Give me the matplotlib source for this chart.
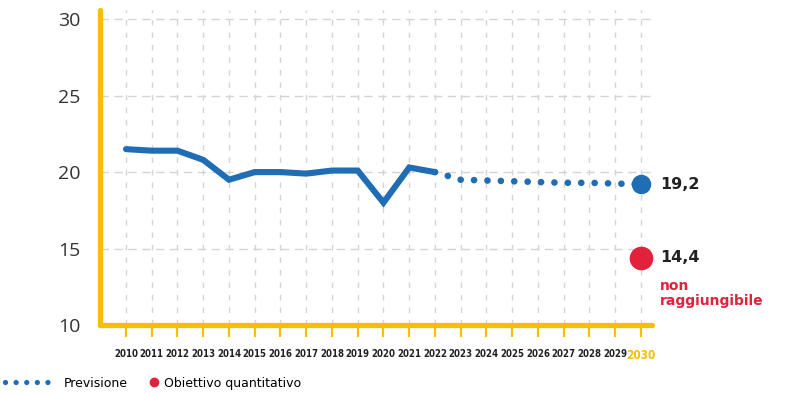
import matplotlib.pyplot as plt
from matplotlib.lines import Line2D

# Data
years = list(range(2010, 2031))
hist_years = list(range(2010, 2023))
hist_values = [21.5, 21.4, 21.4, 20.8, 19.5, 20.0, 20.0, 19.9, 20.1, 20.1, 18.0, 20.3, 20.0]
fc_years = list(range(2022, 2031))
fc_values = [20.0, 19.5, 19.45, 19.4, 19.35, 19.3, 19.3, 19.25, 19.2]
target_year = 2030
target_value = 14.4
yticks = [10, 15, 20, 25, 30]

blue = '#1f6db5'
red = '#e2213b'
yellow = '#f6bd0a'
grid_col = '#d4d4d4'

fig = plt.figure(figsize=(7.87, 3.95), dpi=100)
ax = fig.add_axes([100 / 787, 70 / 395, 552 / 787, 315 / 395])

# Grid
for y in yticks[1:]:
    ax.axhline(y, color=grid_col, lw=1.0, dashes=(6, 4), zorder=0)
for x in years:
    ax.axvline(x, color=grid_col, lw=1.0, dashes=(4, 5), zorder=0)

# Historical line
ax.plot(hist_years, hist_values, color=blue, lw=4.4, solid_capstyle='round',
        solid_joinstyle='miter', zorder=3)

# Forecast dotted line
ax.plot(fc_years, fc_values, color=blue, lw=4.8, dashes=(0.01, 2.0),
        dash_capstyle='round', zorder=3)
ax.plot([fc_years[-1]], [fc_values[-1]], 'o', color=blue, ms=13, zorder=4)

# Target
ax.plot([target_year], [target_value], 'o', color=red, ms=16, zorder=4, clip_on=False)

ax.text(2030.75, fc_values[-1], '19,2', fontsize=11.5, fontweight='bold', color='#222222',
        va='center', ha='left', clip_on=False)
ax.text(2030.75, target_value, '14,4', fontsize=11.5, fontweight='bold', color='#222222',
        va='center', ha='left', clip_on=False)
ax.text(2030.75, 13.0, 'non\nraggiungibile', fontsize=10, color=red, fontweight='semibold',
        va='top', ha='left', linespacing=1.05, clip_on=False)

ax.set_xlim(2008.99, 2030.43)
ax.set_ylim(10, 30.6)
ax.set_yticks(yticks)
ax.set_xticks(years)
ax.set_xticklabels([str(y) for y in years])

for s in ['top', 'right']:
    ax.spines[s].set_visible(False)
for s in ['left', 'bottom']:
    ax.spines[s].set_color(yellow)
    ax.spines[s].set_linewidth(3.8)
    ax.spines[s].set_capstyle('round')
    ax.spines[s].set_zorder(5)

ax.tick_params(axis='y', length=0, pad=14, labelsize=14, labelcolor='#333333')
ax.tick_params(axis='x', length=8.5, width=1.6, color=yellow, pad=9, direction='out')
for lab in ax.get_yticklabels():
    lab.set_family(['Open Sans', 'DejaVu Sans'])
for lab in ax.get_xticklabels():
    lab.set_family('DejaVu Sans')
    lab.set_fontstretch('condensed')
    lab.set_fontweight('bold')
    lab.set_fontsize(6.9)
    lab.set_color('#222222')
ax.get_xticklabels()[-1].set_color(yellow)
ax.get_xticklabels()[-1].set_fontsize(8.5)

# Legend
h1 = Line2D([], [], color=blue, lw=3.8, dashes=(0.01, 2.0), dash_capstyle='round')
h2 = Line2D([], [], color=red, marker='o', ms=6, lw=0)
leg1 = fig.legend([h1], ['Previsione'], loc='center left', bbox_to_anchor=(-0.005, 0.03),
                  frameon=False, fontsize=9, handlelength=4.2, handletextpad=0.5,
                  borderpad=0.2)
fig.legend([h2], ['Obiettivo quantitativo'], loc='center left', bbox_to_anchor=(0.18, 0.03),
           frameon=False, fontsize=9, handlelength=0.6, handletextpad=0.5, borderpad=0.2)

fig.savefig('out.png', dpi=100)
